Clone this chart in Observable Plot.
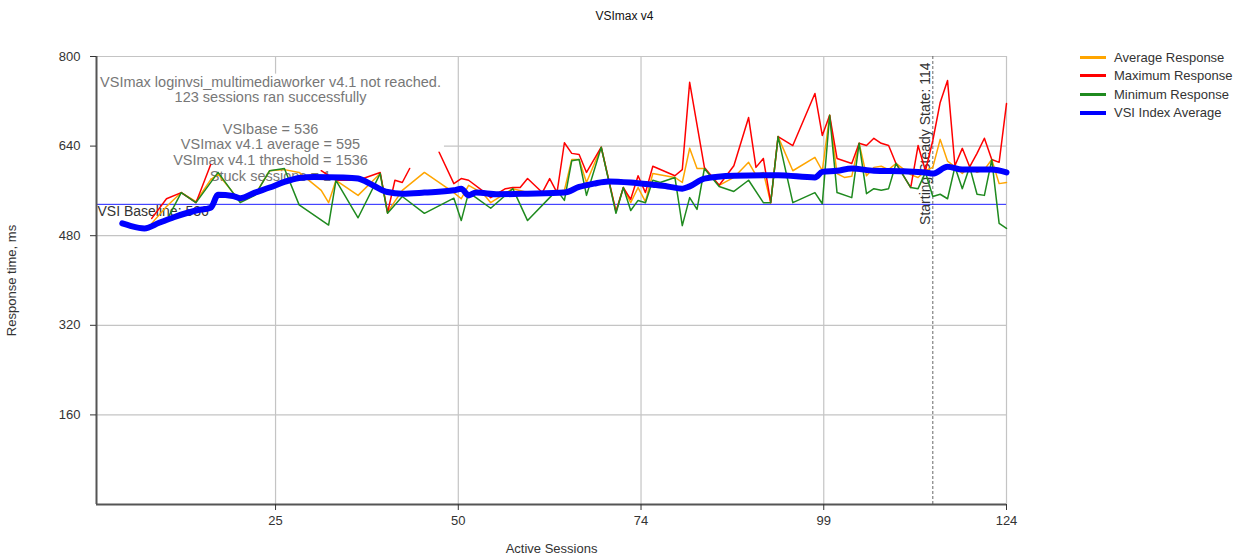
<!DOCTYPE html>
<html><head><meta charset="utf-8">
<script src="https://cdn.jsdelivr.net/npm/d3@7"></script>
<script src="https://cdn.jsdelivr.net/npm/@observablehq/plot@0.6"></script>
<style>
body{margin:0;background:#fff;font-family:"Liberation Sans",Arial,sans-serif;}
#wrap{position:relative;width:1249px;height:560px;}
#title{position:absolute;left:0;width:1249px;top:9px;text-align:center;font-size:12px;color:#111;}
#legend{position:absolute;left:1080px;top:48px;font-size:13px;color:#333;}
.item{display:flex;align-items:center;height:18.5px;}
.sw{width:26px;height:3px;margin-right:8px;}
</style></head><body>
<div id="wrap"><div id="title">VSImax v4</div><div id="legend"></div></div>
<script>
// ---- data ----
const seriesNames = ["Average Response", "Maximum Response", "Minimum Response", "VSI Index Average"];
const seriesColors = ["#ffa500", "#ff0000", "#1f8a1f", "#0000ff"];

const avgSessions = [8,10,12,14,16,17,20,22,24,26,28,31,32,33,36,39,40,42,45,49,50,51,53,54,57,59,62,64,65,66,67,69,71,72,73,74,75,76,79,80,81,82,83,85,87,89,90,91,92,93,95,98,99,100,101,102,103,104,105,106,107,108,109,111,112,113,114,115,116,117,118,119,120,121,122,123,124];
const avgValues   = [502,532,557,541,580,590,541,553,596,598,593,561,539,579,552,591,522,561,593,557,546,570,555,539,564,557,557,561,616,616,575,638,523,566,539,566,541,591,584,575,636,600,600,570,584,611,588,593,539,657,596,620,596,695,591,584,586,645,587,602,604,598,609,589,584,596,602,652,613,603,591,603,593,598,616,573,575];

const maxSessions = [8,10,12,14,16,17,31,33,36,39,40,41,42,43,44,47,49,50,51,53,54,56,57,58,59,61,62,63,64,65,66,67,69,71,72,73,74,75,76,79,80,81,83,85,87,89,90,91,92,93,95,98,99,100,101,103,104,105,106,107,108,109,111,112,113,114,115,116,117,118,119,120,121,122,123,124];
const maxValues   = [511,546,557,539,607,null,596,579,579,593,521,579,575,600,null,629,573,582,579,559,548,564,566,566,582,557,582,557,646,627,625,593,638,523,566,545,587,557,604,587,598,754,602,570,605,691,602,618,539,657,641,734,659,695,618,609,645,641,654,645,641,609,566,641,596,650,718,757,605,636,603,627,654,616,611,716];

const minSessions = [8,10,12,14,17,20,22,24,26,28,32,33,36,39,40,42,45,49,50,51,52,54,57,59,62,63,64,65,66,67,69,71,72,73,74,75,76,77,79,80,81,82,83,85,87,89,91,92,93,95,98,99,100,101,103,104,105,106,107,108,109,111,112,113,114,115,116,117,118,119,120,121,122,123,124];
const minValues   = [500,507,557,539,593,539,552,596,600,535,499,579,512,591,520,550,520,547,507,557,548,529,564,507,548,561,543,614,616,552,638,520,566,525,543,539,579,575,584,498,548,527,600,568,559,579,539,539,657,539,557,537,695,557,548,645,555,564,561,564,609,566,564,593,550,554,546,603,564,603,554,552,616,502,493];

const vsiSessions = [4,5,7,9,11,14,16,17,19,20,22,24,26,28,30,34,36,38,40,42,45,49,50,51,52,55,59,64,66,68,70,73,76,78,80,81,83,87,93,98,99,101,103,106,110,113,114,116,118,122,124];
const vsiValues   = [502,498,493,503,513,525,530,553,551,547,557,566,576,583,585,584,582,570,558,555,557,561,564,552,557,554,555,557,567,573,577,575,571,568,564,568,582,587,588,584,594,596,600,596,595,593,591,603,598,598,593];

const vsiBaseline = 536;
const steadyStateStart = 114;
const xTickValues = [24.8, 49.6, 74.4, 99.2, 124];
const yTickValues = [160, 320, 480, 640, 800];
const xDomain = [0.5, 124];
const yDomain = [0, 800];
const noteLines = [
  "VSImax loginvsi_multimediaworker v4.1 not reached.",
  "123 sessions ran successfully",
  "",
  "VSIbase = 536",
  "VSImax v4.1 average = 595",
  "VSImax v4.1 threshold = 1536",
  "Stuck sessions = 1"
];

// ---- build tables ----
const toRows = (xs, ys) => xs.map((s, i) => ({s, v: ys[i]}));
const avgRows = toRows(avgSessions, avgValues);
const maxRows = toRows(maxSessions, maxValues);
const minRows = toRows(minSessions, minValues);
const vsiRows = toRows(vsiSessions, vsiValues);

const font = '"Liberation Sans", Arial, sans-serif';

const chart = Plot.plot({
  width: 1249,
  height: 560,
  marginLeft: 96,
  marginRight: 243,
  marginTop: 56,
  marginBottom: 56,
  style: {fontFamily: font, fontSize: "13px", background: "transparent", color: "#333"},
  x: {domain: xDomain},
  y: {domain: yDomain},
  marks: [
    Plot.gridX(xTickValues, {stroke: "#c4c4c4", strokeOpacity: 1, strokeWidth: 1.2}),
    Plot.gridY(yTickValues, {stroke: "#c4c4c4", strokeOpacity: 1, strokeWidth: 1.2}),
    Plot.text([noteLines.join("\n")], {
      text: d => d, frameAnchor: "top-left", dx: 174, dy: 19,
      textAnchor: "middle", lineAnchor: "top", lineHeight: 1.08,
      fill: "#777", fontSize: 14.5
    }),
    Plot.ruleY([vsiBaseline], {stroke: "#2020ff", strokeWidth: 1}),
    Plot.text([vsiBaseline], {
      x: () => xDomain[0], y: d => d, text: d => `VSI Baseline: ${d}`,
      textAnchor: "start", lineAnchor: "top", dx: 1, dy: 2, fill: "#333", fontSize: 14
    }),
    Plot.ruleX([steadyStateStart], {stroke: "#666", strokeWidth: 1, strokeDasharray: "3,2"}),
    Plot.text([steadyStateStart], {
      x: d => d, frameAnchor: "top", rotate: -90, textAnchor: "end",
      dx: -13, dy: 6, text: d => `Starting Steady State: ${d}`, fill: "#333", fontSize: 14
    }),
    Plot.line(avgRows, {x: "s", y: "v", stroke: seriesColors[0], strokeWidth: 1.5}),
    Plot.line(maxRows, {x: "s", y: "v", stroke: seriesColors[1], strokeWidth: 1.5}),
    Plot.line(minRows, {x: "s", y: "v", stroke: seriesColors[2], strokeWidth: 1.5}),
    Plot.line(vsiRows, {x: "s", y: "v", stroke: seriesColors[3], strokeWidth: 6, curve: "monotone-x", strokeLinejoin: "round", strokeLinecap: "round"}),
    Plot.ruleY([yDomain[0]], {stroke: "#555", strokeWidth: 2}),
    Plot.ruleX([xDomain[0]], {stroke: "#555", strokeWidth: 2}),
    Plot.axisX(xTickValues, {
      tickFormat: d => Math.round(d), tickSize: 6, tickPadding: 5,
      label: "Active Sessions", labelAnchor: "center", labelOffset: 48, labelArrow: "none",
      fontSize: 13, fill: "#333"
    }),
    Plot.axisY(yTickValues, {
      tickSize: 6, tickPadding: 10,
      label: "Response time, ms", labelAnchor: "center", labelOffset: 90, labelArrow: "none",
      fontSize: 13, fill: "#333"
    })
  ]
});

const wrap = document.getElementById("wrap");
wrap.insertBefore(chart, wrap.firstChild);
chart.style.position = "absolute";
chart.style.left = "0px";
chart.style.top = "0px";
document.getElementById("title").style.zIndex = 2;
const legendDiv = document.getElementById("legend");
legendDiv.style.zIndex = 2;

// white background behind the annotation block (computed from its own box)
for (const t of chart.querySelectorAll("text")) {
  if (t.textContent.includes("loginvsi")) {
    const b = t.getBBox();
    const ns = "http://www.w3.org/2000/svg";
    const r = document.createElementNS(ns, "rect");
    r.setAttribute("x", b.x - 3);
    r.setAttribute("y", b.y);
    r.setAttribute("width", b.width + 6);
    r.setAttribute("height", b.height);
    r.setAttribute("fill", "#fff");
    const tr = t.getAttribute("transform");
    if (tr) r.setAttribute("transform", tr);
    t.parentNode.insertBefore(r, t);
    break;
  }
}

// legend
seriesNames.forEach((n, i) => {
  const item = document.createElement("div");
  item.className = "item";
  const sw = document.createElement("div");
  sw.className = "sw";
  sw.style.background = seriesColors[i];
  if (i === 3) sw.style.height = "4px";
  const lab = document.createElement("span");
  lab.textContent = n;
  item.appendChild(sw);
  item.appendChild(lab);
  legendDiv.appendChild(item);
});
</script>
</body></html>
